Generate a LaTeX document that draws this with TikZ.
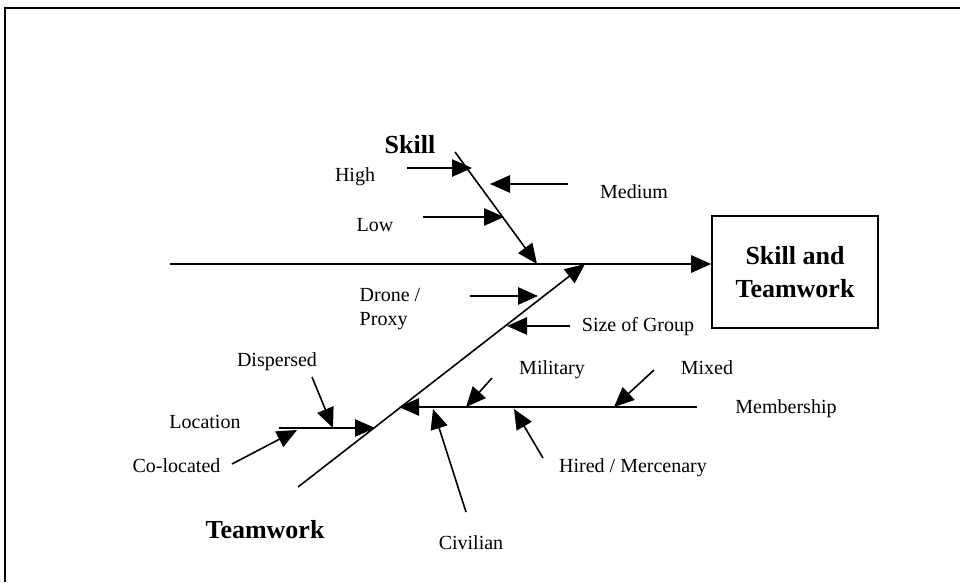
\documentclass[tikz,border=0pt]{standalone}
\usepackage{fontspec}
\setmainfont{Liberation Serif}
\usetikzlibrary{arrows.meta}

\tikzset{
  cause/.style={line width=1.2pt, -{Triangle[length=15pt,width=13pt]}},
  lbl/.style={font=\fontsize{15}{18}\selectfont, inner sep=1pt},
  head/.style={font=\fontsize{19.5}{23}\selectfont\bfseries, inner sep=1pt},
  effect/.style={draw, line width=1.2pt, minimum width=124.5pt, minimum height=84pt,
    align=center, font=\fontsize{19.5}{25}\selectfont\bfseries},
}

\begin{document}
\begin{tikzpicture}[x=0.75pt, y=-0.75pt]
    \useasboundingbox (0,0) rectangle (960,582);
    \draw[line width=2.2pt] (5,582) -- (5,8) -- (960,8);

    % effect and main bones
    \node[effect] (effect) at (795,272) {Skill and\\Teamwork};
    \coordinate (spine) at (170,264);
    \coordinate (effect-in) at (effect.west |- spine);
    \coordinate (skilltop) at (455,152);
    \coordinate (skilltip) at (537,264);
    \coordinate (teamfoot) at (298,487);
    \coordinate (teamtip) at (585,264);
    \draw[cause] (spine) -- (effect-in);
    \draw[cause] (skilltop) -- (skilltip);
    \draw[cause] (teamfoot) -- (teamtip);
    \node[head] (skill) at (410,145) {Skill};
    \node[head] (teamwork) at (265,530) {Teamwork};

    % skill causes
    \coordinate (high-a) at (407,168);  \coordinate (high-b) at (472,168);
    \coordinate (med-a) at (568,184);   \coordinate (med-b) at (490,184);
    \coordinate (low-a) at (423,217);   \coordinate (low-b) at (504,217);
    \draw[cause] (high-a) -- (high-b);
    \draw[cause] (med-a) -- (med-b);
    \draw[cause] (low-a) -- (low-b);
    \node[lbl] (high) at (355,177) {High};
    \node[lbl] (medium) at (634,192) {Medium};
    \node[lbl] (low) at (375,225) {Low};

    % teamwork causes
    \coordinate (drone-a) at (470,296); \coordinate (drone-b) at (538,296);
    \coordinate (size-a) at (570,326);  \coordinate (size-b) at (507,326);
    \draw[cause] (drone-a) -- (drone-b);
    \draw[cause] (size-a) -- (size-b);
    \node[lbl, align=left] (drone) at (390,309) {Drone /\\Proxy};
    \node[lbl] (size) at (638,327) {Size of Group};

    % membership
    \coordinate (memb-a) at (697,407);  \coordinate (memb-b) at (399,407);
    \draw[cause] (memb-a) -- (memb-b);
    \coordinate (mil-a) at (492,378);   \coordinate (mil-b) at (466,407);
    \coordinate (mix-a) at (654,370);   \coordinate (mix-b) at (614,407);
    \coordinate (hire-a) at (543,458);  \coordinate (hire-b) at (514,409);
    \coordinate (civ-a) at (466,512);   \coordinate (civ-b) at (433,409);
    \draw[cause] (mil-a) -- (mil-b);
    \draw[cause] (mix-a) -- (mix-b);
    \draw[cause] (hire-a) -- (hire-b);
    \draw[cause] (civ-a) -- (civ-b);
    \node[lbl] (membership) at (786,409) {Membership};
    \node[lbl] (military) at (552,370) {Military};
    \node[lbl] (mixed) at (707,368) {Mixed};
    \node[lbl] (hired) at (633,468) {Hired / Mercenary};
    \node[lbl] (civilian) at (471,543) {Civilian};

    % location
    \coordinate (loc-a) at (279,428);   \coordinate (loc-b) at (375,428);
    \draw[cause] (loc-a) -- (loc-b);
    \coordinate (disp-a) at (312,377);  \coordinate (disp-b) at (333,428);
    \coordinate (colo-a) at (232,464);  \coordinate (colo-b) at (297,430);
    \draw[cause] (disp-a) -- (disp-b);
    \draw[cause] (colo-a) -- (colo-b);
    \node[lbl] (location) at (205,422) {Location};
    \node[lbl] (dispersed) at (277,362) {Dispersed};
    \node[lbl, anchor=east] (colocated) at (222,466) {Co-located};
\end{tikzpicture}
\end{document}
